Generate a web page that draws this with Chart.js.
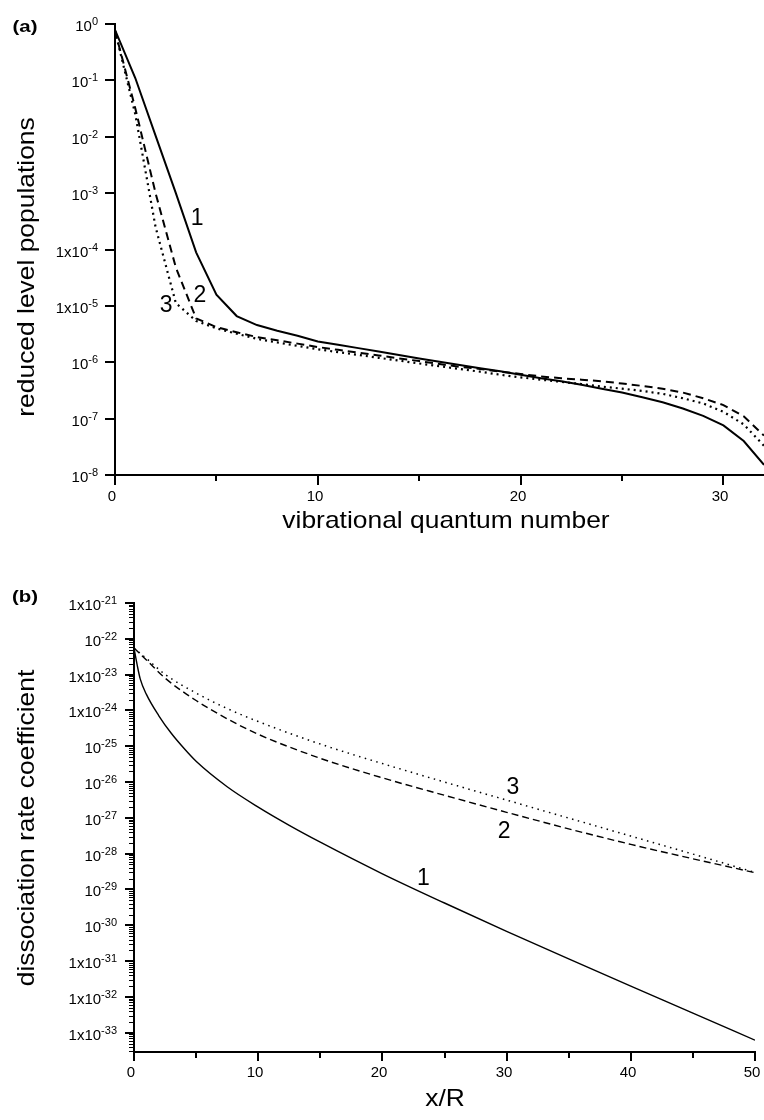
<!DOCTYPE html>
<html>
<head>
<meta charset="utf-8">
<title>Level populations and dissociation rate</title>
<script src="https://cdn.jsdelivr.net/npm/chart.js@4.4.1/dist/chart.umd.min.js"></script>
<style>
  html, body { margin: 0; padding: 0; background: #fff; }
  #wrap { position: relative; width: 764px; height: 1120px; }
  .panel { position: absolute; left: 0; width: 764px; height: 560px; }
  #panelA { top: 0; }
  #panelB { top: 560px; }
</style>
</head>
<body>
<div id="wrap">
  <div class="panel" id="panelA"><canvas id="chartA" width="764" height="560"></canvas></div>
  <div class="panel" id="panelB"><canvas id="chartB" width="764" height="560"></canvas></div>
</div>
<script>
// ---------- panel (a): reduced level populations ----------
const levels = [0,1,2,3,4,5,6,7,8,9,10,11,12,13,14,15,16,17,18,19,20,21,22,23,24,25,26,27,28,29,30,31,32];
const popCurve1 = [0.79, 0.11, 1.05e-2, 1.0e-3, 8.9e-5, 1.58e-5, 6.6e-6, 4.57e-6, 3.63e-6, 2.95e-6, 2.34e-6,
  2.04e-6, 1.78e-6, 1.55e-6, 1.35e-6, 1.17e-6, 1.02e-6, 8.9e-7, 7.8e-7, 6.9e-7, 6.0e-7,
  5.2e-7, 4.6e-7, 4.0e-7, 3.4e-7, 2.9e-7, 2.4e-7, 1.95e-7, 1.51e-7, 1.12e-7, 7.6e-8, 4.0e-8, 1.51e-8];
const popCurve2 = [0.76, 3.2e-2, 1.0e-3, 4.8e-5, 6.0e-6, 4.2e-6, 3.4e-6, 2.8e-6, 2.45e-6, 2.14e-6, 1.86e-6,
  1.66e-6, 1.48e-6, 1.32e-6, 1.17e-6, 1.05e-6, 9.3e-7, 8.3e-7, 7.6e-7, 6.8e-7, 6.2e-7,
  5.6e-7, 5.2e-7, 4.9e-7, 4.6e-7, 4.2e-7, 3.8e-7, 3.4e-7, 2.9e-7, 2.3e-7, 1.74e-7, 1.10e-7, 5.0e-8];
const popCurve3 = [0.76, 2.5e-2, 2.5e-4, 1.12e-5, 5.4e-6, 4.0e-6, 3.2e-6, 2.6e-6, 2.24e-6, 1.95e-6, 1.70e-6,
  1.51e-6, 1.35e-6, 1.20e-6, 1.07e-6, 9.5e-7, 8.5e-7, 7.6e-7, 6.8e-7, 6.0e-7, 5.4e-7,
  4.9e-7, 4.5e-7, 4.1e-7, 3.7e-7, 3.4e-7, 3.1e-7, 2.75e-7, 2.3e-7, 1.86e-7, 1.32e-7, 7.9e-8, 3.3e-8];

const yTicksA = [1, 1e-1, 1e-2, 1e-3, 1e-4, 1e-5, 1e-6, 1e-7, 1e-8];
const yTickLabelsA = [['10','0'], ['10','-1'], ['10','-2'], ['10','-3'], ['1x10','-4'], ['1x10','-5'], ['10','-6'], ['10','-7'], ['10','-8']];
const xTicksA = [0, 10, 20, 30];
const xMinorTicksA = [5, 15, 25];

// ---------- panel (b): dissociation rate coefficient ----------
const distSolid = [0, 0.25, 0.5, 1, 2, 3, 4, 5, 7.5, 10, 12.5, 15, 20, 25, 30, 35, 40, 45, 50];
const rateCurve1 = [5.5e-23, 1.9e-23, 7.6e-24, 2.8e-24, 7.1e-25, 2.3e-25, 8.9e-26, 3.8e-26, 7.4e-27, 2.0e-27,
  6.2e-28, 2.1e-28, 2.75e-29, 4.2e-30, 6.8e-31, 1.15e-31, 2.0e-32, 3.55e-33, 6.2e-34];
const dist = [0, 1, 2.5, 5, 7.5, 10, 15, 20, 25, 30, 35, 40, 45, 50];
const rateCurve2 = [5.5e-23, 2.56e-23, 8.0e-24, 1.89e-24, 5.85e-25, 2.16e-25, 4.6e-26, 1.31e-26, 4.27e-27,
  1.43e-27, 4.94e-28, 1.82e-28, 7.2e-29, 2.95e-29];
const rateCurve3 = [5.5e-23, 2.82e-23, 1.02e-23, 3.06e-24, 1.13e-24, 4.9e-25, 1.15e-25, 3.29e-26, 1.0e-26,
  3.14e-27, 9.86e-28, 3.1e-28, 9.75e-29, 3.0e-29];

const yTicksB = [1e-21, 1e-22, 1e-23, 1e-24, 1e-25, 1e-26, 1e-27, 1e-28, 1e-29, 1e-30, 1e-31, 1e-32, 1e-33];
const yTickLabelsB = [['1x10','-21'], ['10','-22'], ['1x10','-23'], ['1x10','-24'], ['10','-25'], ['10','-26'],
  ['10','-27'], ['10','-28'], ['10','-29'], ['10','-30'], ['1x10','-31'], ['1x10','-32'], ['1x10','-33']];
const xTicksB = [0, 10, 20, 30, 40, 50];
const xMinorTicksB = [5, 15, 25, 35, 45];

const FONT = '"Liberation Sans", Arial, Helvetica, sans-serif';

function toPoints(xs, ys) {
  return xs.map((x, i) => ({ x: x, y: ys[i] }));
}

function drawText(ctx, text, x, y, o) {
  ctx.save();
  ctx.translate(x, y);
  if (o.rotate) ctx.rotate(o.rotate);
  ctx.scale(o.stretch || 1, 1);
  ctx.font = (o.bold ? 'bold ' : '') + o.size + 'px ' + FONT;
  ctx.textAlign = o.align || 'center';
  ctx.textBaseline = 'middle';
  ctx.fillStyle = '#000';
  ctx.fillText(text, 0, 0);
  ctx.restore();
}

// "10" + superscript, right aligned at xRight
function drawPowerLabel(ctx, base, sup, xRight, y) {
  ctx.save();
  ctx.fillStyle = '#000';
  ctx.textBaseline = 'middle';
  ctx.textAlign = 'left';
  ctx.font = '15px ' + FONT;
  const wb = ctx.measureText(base).width;
  ctx.font = '11px ' + FONT;
  const ws = ctx.measureText(sup).width;
  ctx.font = '15px ' + FONT;
  ctx.fillText(base, xRight - ws - wb, y + 3);
  ctx.font = '11px ' + FONT;
  ctx.fillText(sup, xRight - ws, y - 2);
  ctx.restore();
}

function tick(ctx, x1, y1, x2, y2, w) {
  ctx.lineWidth = w;
  ctx.beginPath();
  ctx.moveTo(x1, y1);
  ctx.lineTo(x2, y2);
  ctx.stroke();
}

// draws ticks, tick labels, axis titles and curve numbers
function decorations(cfg) {
  return {
    id: 'decor',
    afterDraw(chart) {
      const ctx = chart.ctx;
      const xs = chart.scales.x, ys = chart.scales.y;
      const left = chart.chartArea.left, bottom = chart.chartArea.bottom;
      ctx.save();
      ctx.strokeStyle = '#000';

      cfg.yMinor.forEach(v => {
        const p = Math.round(ys.getPixelForValue(v)) + 0.5;
        tick(ctx, left - cfg.yMinorLen, p, left, p, 1);
      });
      cfg.yTicks.forEach((v, i) => {
        const p = Math.round(ys.getPixelForValue(v));
        tick(ctx, left - cfg.majorLen, p, left, p, 2);
        drawPowerLabel(ctx, cfg.yLabels[i][0], cfg.yLabels[i][1], cfg.yLabelRight, p);
      });
      cfg.xMinor.forEach(v => {
        const p = Math.round(xs.getPixelForValue(v));
        tick(ctx, p, bottom, p, bottom + cfg.xMinorLen, 2);
      });
      cfg.xTicks.forEach(v => {
        const p = Math.round(xs.getPixelForValue(v));
        tick(ctx, p, bottom, p, bottom + cfg.majorLen, 2);
        drawText(ctx, String(v), p - 3, cfg.xLabelY, { size: 15 });
      });

      drawText(ctx, cfg.xTitle, cfg.xTitlePos[0], cfg.xTitlePos[1], { size: 24, stretch: 1.1 });
      drawText(ctx, cfg.yTitle, cfg.yTitlePos[0], cfg.yTitlePos[1], { size: 24, stretch: 1.1, rotate: -Math.PI / 2 });
      drawText(ctx, cfg.panel, cfg.panelPos[0], cfg.panelPos[1], { size: 17, bold: true, stretch: 1.2 });

      cfg.curveLabels.forEach(c => {
        drawText(ctx, c.text, xs.getPixelForValue(c.x), ys.getPixelForValue(c.y), { size: 23 });
      });
      ctx.restore();
    }
  };
}

function minorLogTicks(lo, hi) {
  const out = [];
  for (let e = Math.floor(Math.log10(lo)); e <= Math.ceil(Math.log10(hi)); e++) {
    for (let k = 2; k <= 9; k++) {
      const v = k * Math.pow(10, e);
      if (v >= lo && v <= hi) out.push(v);
    }
  }
  return out;
}

function lineSet(points, width, dash, smooth) {
  return {
    data: points,
    borderColor: '#000',
    borderWidth: width,
    borderDash: dash,
    pointRadius: 0,
    fill: false,
    tension: 0,
    cubicInterpolationMode: smooth ? 'monotone' : 'default'
  };
}

function axisOptions(type, min, max, size, isY) {
  return {
    type: type,
    min: min,
    max: max,
    grid: { display: false },
    border: { display: true, color: '#000', width: 2 },
    ticks: { display: false },
    afterFit(scale) {
      if (isY) scale.width = size; else scale.height = size;
    }
  };
}

Chart.defaults.font.family = FONT;
Chart.defaults.color = '#000';

// panel (a)
new Chart(document.getElementById('chartA'), {
  type: 'line',
  data: {
    datasets: [
      lineSet(toPoints(levels, popCurve1), 2, [], false),
      lineSet(toPoints(levels, popCurve2), 2, [8, 5], false),
      lineSet(toPoints(levels, popCurve3), 2.2, [2, 4], false)
    ]
  },
  options: {
    responsive: false,
    animation: false,
    layout: { padding: { top: 24, right: 0, left: 0, bottom: 0 } },
    plugins: { legend: { display: false }, tooltip: { enabled: false } },
    scales: {
      x: axisOptions('linear', 0, 32, 85, false),
      y: axisOptions('logarithmic', 1e-8, 1, 115, true)
    }
  },
  plugins: [decorations({
    yTicks: yTicksA, yLabels: yTickLabelsA, yMinor: [], yMinorLen: 0,
    xTicks: xTicksA, xMinor: xMinorTicksA,
    majorLen: 10, xMinorLen: 6,
    yLabelRight: 98, xLabelY: 497,
    xTitle: 'vibrational quantum number', xTitlePos: [446, 521],
    yTitle: 'reduced level populations', yTitlePos: [27, 267],
    panel: '(a)', panelPos: [25, 27],
    curveLabels: [
      { text: '1', x: 4.05, y: 3.5e-4 },
      { text: '2', x: 4.19, y: 1.5e-5 },
      { text: '3', x: 2.52, y: 1.0e-5 }
    ]
  })]
});

// panel (b)
new Chart(document.getElementById('chartB'), {
  type: 'line',
  data: {
    datasets: [
      lineSet(toPoints(distSolid, rateCurve1), 1.4, [], true),
      lineSet(toPoints(dist, rateCurve2), 1.4, [7, 4], true),
      lineSet(toPoints(dist, rateCurve3), 1.5, [1.5, 4.5], true)
    ]
  },
  options: {
    responsive: false,
    animation: false,
    layout: { padding: { top: 43, right: 9, left: 0, bottom: 0 } },
    plugins: { legend: { display: false }, tooltip: { enabled: false } },
    scales: {
      x: axisOptions('linear', 0, 50, 68, false),
      y: axisOptions('logarithmic', 2.9e-34, 1e-21, 134, true)
    }
  },
  plugins: [decorations({
    yTicks: yTicksB, yLabels: yTickLabelsB, yMinor: minorLogTicks(2.9e-34, 1e-21), yMinorLen: 5,
    xTicks: xTicksB, xMinor: xMinorTicksB,
    majorLen: 9, xMinorLen: 6,
    yLabelRight: 117, xLabelY: 513,
    xTitle: 'x/R', xTitlePos: [445, 539],
    yTitle: 'dissociation rate coefficient', yTitlePos: [27, 268],
    panel: '(b)', panelPos: [25, 37],
    curveLabels: [
      { text: '1', x: 23.3, y: 1.95e-29 },
      { text: '2', x: 29.8, y: 4.0e-28 },
      { text: '3', x: 30.5, y: 6.8e-27 }
    ]
  })]
});
</script>
</body>
</html>
